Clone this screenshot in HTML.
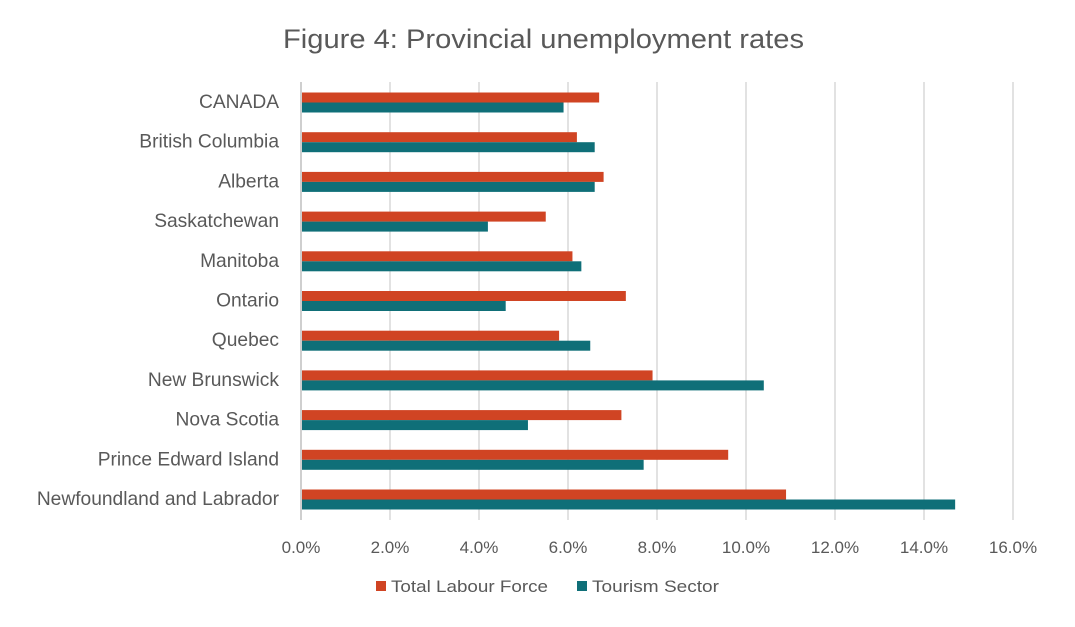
<!DOCTYPE html>
<html><head><style>body{margin:0;background:#fff}</style></head><body>
<svg width="1075" height="622" xmlns="http://www.w3.org/2000/svg" font-family="Liberation Sans, sans-serif">
<rect width="1075" height="622" fill="#fff"/>
<text x="283" y="48" textLength="521" lengthAdjust="spacingAndGlyphs" font-size="27" fill="#595959">Figure 4: Provincial unemployment rates</text>
<g stroke="#d9d9d9" stroke-width="1.5">
<line x1="390" y1="82" x2="390" y2="520"/><line x1="479" y1="82" x2="479" y2="520"/><line x1="568" y1="82" x2="568" y2="520"/><line x1="657" y1="82" x2="657" y2="520"/><line x1="746" y1="82" x2="746" y2="520"/><line x1="835" y1="82" x2="835" y2="520"/><line x1="924" y1="82" x2="924" y2="520"/><line x1="1013" y1="82" x2="1013" y2="520"/>
</g>
<line x1="301" y1="82" x2="301" y2="520" stroke="#bfbfbf" stroke-width="1.5"/>
<g id="bars"></g>
<g font-size="17" fill="#595959" text-anchor="middle">
<text x="301" y="553">0.0%</text><text x="390" y="553">2.0%</text><text x="479" y="553">4.0%</text><text x="568" y="553">6.0%</text><text x="657" y="553">8.0%</text><text x="746" y="553">10.0%</text><text x="835" y="553">12.0%</text><text x="924" y="553">14.0%</text><text x="1013" y="553">16.0%</text>
</g>
<rect x="376" y="581" width="10" height="10" fill="#d04423"/>
<text x="391" y="592" font-size="17" textLength="157" lengthAdjust="spacingAndGlyphs" fill="#595959">Total Labour Force</text>
<rect x="577" y="581" width="10" height="10" fill="#0f6f78"/>
<text x="592" y="592" font-size="17" textLength="127" lengthAdjust="spacingAndGlyphs" fill="#595959">Tourism Sector</text>
</svg>
<script>
var d=[["CANADA",6.7,5.9],["British Columbia",6.2,6.6],["Alberta",6.8,6.6],["Saskatchewan",5.5,4.2],["Manitoba",6.1,6.3],["Ontario",7.3,4.6],["Quebec",5.8,6.5],["New Brunswick",7.9,10.4],["Nova Scotia",7.2,5.1],["Prince Edward Island",9.6,7.7],["Newfoundland and Labrador",10.9,14.7]];
var g=document.getElementById('bars'),s='';
d.forEach(function(r,i){var c=102+i*39.7;
s+='<rect x="302" y="'+(c-9.5)+'" width="'+(r[1]*44.5-1)+'" height="10" fill="#d04423"/>';
s+='<rect x="302" y="'+(c+0.5)+'" width="'+(r[2]*44.5-1)+'" height="10" fill="#0f6f78"/>';
s+='<text x="279" y="'+(c+6)+'" text-anchor="end" font-size="19.2" fill="#595959">'+r[0]+'</text>';});
g.innerHTML=s;
</script>
</body></html>
